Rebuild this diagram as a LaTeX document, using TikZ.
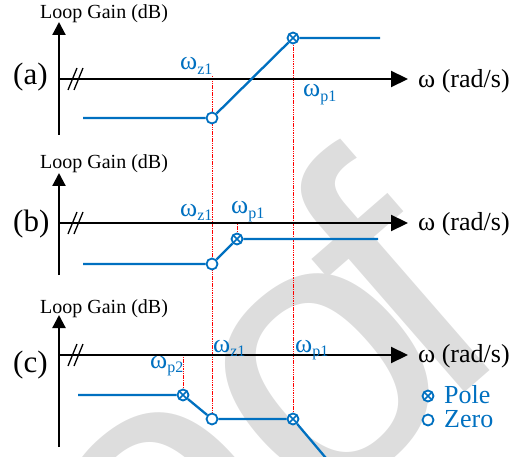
\documentclass[tikz,border=0pt]{standalone}
\usepackage{fontspec}
\setmainfont{Liberation Serif}
\newfontfamily\wmfont{Liberation Sans}
\usetikzlibrary{arrows.meta}
\definecolor{BodeBlue}{RGB}{0,112,192}
\definecolor{BodeRed}{RGB}{255,0,0}
\definecolor{ProofGray}{RGB}{221,221,221}
\pgfdeclarelayer{background}
\pgfsetlayers{background,main}
\newcommand{\wz}[1]{ω{\fontsize{16}{16}\selectfont\raisebox{-4.5pt}{#1}}}

\begin{document}
\begin{tikzpicture}[x=1pt,y=-1pt,
  haxis/.style={line width=2.2pt,-{Triangle[length=17pt,width=16pt]}},
  vaxis/.style={line width=2.2pt,-{Triangle[length=13pt,width=13pt]}},
  brk/.style={line width=1.3pt},
  curve/.style={BodeBlue,line width=2.3pt},
  guide/.style={BodeRed,line width=0.8pt,dash pattern=on 1.5pt off 0.8pt},
  zro/.style={circle,draw=BodeBlue,fill=white,line width=1.8pt,minimum size=11pt,inner sep=0pt},
  pol/.style={zro,path picture={\draw[BodeBlue,line width=1.5pt]
     (path picture bounding box.north west) -- (path picture bounding box.south east)
     (path picture bounding box.north east) -- (path picture bounding box.south west);}},
  wlab/.style={BodeBlue,anchor=base west,inner sep=0pt,font=\fontsize{26}{26}\selectfont},
  ylab/.style={anchor=base west,inner sep=0pt,font=\fontsize{20}{20}\selectfont},
  xlab/.style={anchor=base west,inner sep=0pt,font=\fontsize{26}{26}\selectfont},
  plab/.style={anchor=base west,inner sep=0pt,font=\fontsize{31}{31}\selectfont},
  klab/.style={BodeBlue,anchor=base west,inner sep=0pt,font=\fontsize{26}{26}\selectfont}]
\useasboundingbox (0,0) rectangle (527,457);
\begin{pgfonlayer}{background}
\begin{scope}
\clip (0,0) rectangle (527,457);
\node[ProofGray,font=\wmfont\fontsize{380}{380}\selectfont,anchor=base east,rotate=41,inner sep=0pt] (proof) at (519,345) {Proo\kern-45pt f};
\end{scope}
\end{pgfonlayer}
% poles and zeros
\node[pol] (pa) at (293,38) {};
\node[zro] (za) at (212,118) {};
\node[pol] (pb) at (237,239) {};
\node[zro] (zb) at (212,264) {};
\node[pol] (pc2) at (183,395) {};
\node[zro] (zc) at (212,419) {};
\node[pol] (pc1) at (293,419) {};
% axes
\foreach \t/\y/\top/\bot in {a/79/22/135,b/223/173/275,c/355/315/447} {
   \coordinate (o\t) at (59,\y);
   \draw[vaxis] (59,\bot) -- (59,\top);
   \draw[haxis] (o\t) -- (408,\y);
   \draw[brk] (68,\y+11) -- (77,\y-11) (74,\y+11) -- (83,\y-11);
}
\foreach \t/\ly/\py/\xy in {a/19/85/88,b/169/231/230,c/313/372/362} {
   \node[ylab] (gain\t) at (40,\ly) {Loop Gain (dB)};
   \node[plab] (tag\t) at (13,\py) {(\t)};
   \node[xlab] (freq\t) at (418,\xy) {ω (rad/s)};
}
\begin{pgfonlayer}{background}
\coordinate (gz) at (212,76);
\draw[guide] (gz) -- (zc.center) (pa.center) -- (pc1.center)
   (pb.center) -- (pb |- ob) (pc2.center) -- (pc2 |- oc);
\end{pgfonlayer}
% curves
\coordinate (a0) at (83,118); \coordinate (a1) at (380,38);
\coordinate (b0) at (83,264); \coordinate (b1) at (378,239);
\coordinate (c0) at (78,395); \coordinate (c1) at (336,470);
\draw[curve] (a0) -- (za) -- (pa) -- (a1);
\draw[curve] (b0) -- (zb) -- (pb) -- (b1);
\draw[curve] (c0) -- (pc2) -- (zc) -- (pc1) -- (c1);
% labels
\node[wlab] (lza) at (180,70) {\wz{z1}};
\node[wlab] (lpa) at (303,97) {\wz{p1}};
\node[wlab] (lzb) at (180,216) {\wz{z1}};
\node[wlab] (lpb) at (231,214) {\wz{p1}};
\node[wlab] (lpc2) at (150,368) {\wz{p2}};
\node[wlab] (lzc) at (213,352) {\wz{z1}};
\node[wlab] (lpc1) at (295,352) {\wz{p1}};
% key
\node[pol] (keyp) at (428,396) {};
\node[zro] (keyz) at (428,420) {};
\node[klab] (keyptxt) at (444,403) {Pole};
\node[klab] (keyztxt) at (444,427) {Zero};
\end{tikzpicture}
\end{document}
